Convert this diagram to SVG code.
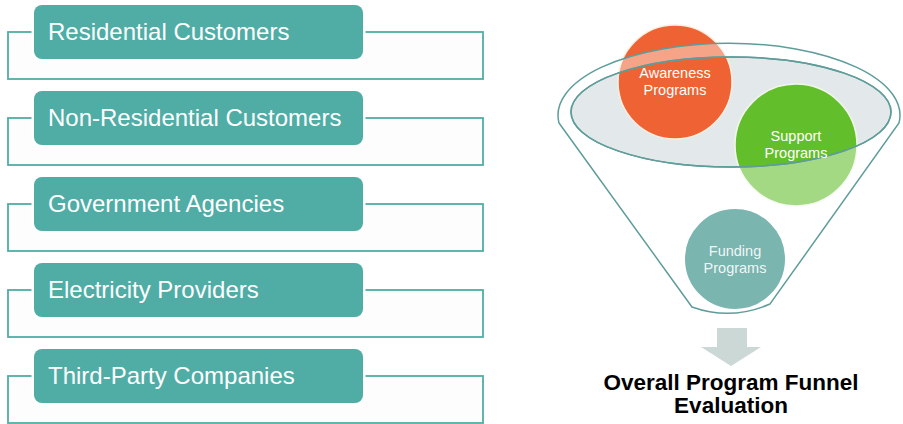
<svg xmlns="http://www.w3.org/2000/svg" width="903" height="424" viewBox="0 0 903 424">
<style>
.frame{fill:#fdfdfd;stroke:#4fada5;stroke-width:1.8}
.tab{fill:#4fada5;stroke:#ffffff;stroke-width:5;paint-order:stroke}
.lbl{font-family:"Liberation Sans",Arial,sans-serif;font-size:24px;fill:#ffffff}
.ctext{font-family:"Liberation Sans",Arial,sans-serif;font-size:14.5px;fill:#ffffff;text-anchor:middle}
.title{font-family:"Liberation Sans",Arial,sans-serif;font-size:22.5px;font-weight:bold;fill:#000000;text-anchor:middle}
.edge{stroke:#5e9d9a;stroke-width:1.5}
</style>
<rect width="903" height="424" fill="#ffffff"/>

<g id="residential-customers">
<rect class="frame" x="8" y="32" width="475" height="47"/>
<rect class="tab" x="34" y="5" width="329" height="54" rx="8"/>
<text class="lbl" x="48" y="40">Residential Customers</text>
</g>
<g id="non-residential-customers">
<rect class="frame" x="8" y="118" width="475" height="47"/>
<rect class="tab" x="34" y="91" width="329" height="54" rx="8"/>
<text class="lbl" x="48" y="126">Non-Residential Customers</text>
</g>
<g id="government-agencies">
<rect class="frame" x="8" y="204" width="475" height="47"/>
<rect class="tab" x="34" y="177" width="329" height="54" rx="8"/>
<text class="lbl" x="48" y="212">Government Agencies</text>
</g>
<g id="electricity-providers">
<rect class="frame" x="8" y="290" width="475" height="47"/>
<rect class="tab" x="34" y="263" width="329" height="54" rx="8"/>
<text class="lbl" x="48" y="298">Electricity Providers</text>
</g>
<g id="third-party-companies">
<rect class="frame" x="8" y="376" width="475" height="47"/>
<rect class="tab" x="34" y="349" width="329" height="54" rx="8"/>
<text class="lbl" x="48" y="384">Third-Party Companies</text>
</g>

<g id="funnel">
<ellipse cx="731" cy="112" rx="160" ry="55" fill="#e3e9ea"/>
<g id="awareness-programs">
<circle cx="675" cy="82" r="57" fill="#ee6233" stroke="#fbeee0" stroke-width="1.5"/>
</g>
<g id="support-programs">
<circle cx="796" cy="145" r="61" fill="#63be2b" stroke="#f0f7e8" stroke-width="1.5"/>
</g>
<path d="M559 123 L692 307 Q731 321 770 304 L899 123 A171 72 0 1 0 559 123 Z M571 112 A160 55 0 1 0 891 112 A160 55 0 1 0 571 112 Z" fill="#ffffff" fill-opacity="0.42" fill-rule="evenodd" class="edge"/>
<ellipse cx="731" cy="112" rx="160" ry="55" fill="none" class="edge"/>
<text class="ctext" x="675" y="78">Awareness</text>
<text class="ctext" x="675" y="94.5">Programs</text>
<text class="ctext" x="796" y="141">Support</text>
<text class="ctext" x="796" y="157.5">Programs</text>
<g id="funding-programs">
<circle cx="735" cy="259" r="51" fill="#7ab5b0" stroke="#ffffff" stroke-width="2"/>
<text class="ctext" x="735" y="256" fill-opacity="0.9">Funding</text>
<text class="ctext" x="735" y="272.5" fill-opacity="0.9">Programs</text>
</g>
</g>

<g id="connectors">
<path d="M717 328 H747 V347 H761 L731 366 L701 347 H717 Z" fill="#ccd8d6"/>
</g>

<g id="overall-evaluation">
<text class="title" x="731" y="390">Overall Program Funnel</text>
<text class="title" x="731" y="413">Evaluation</text>
</g>
</svg>
